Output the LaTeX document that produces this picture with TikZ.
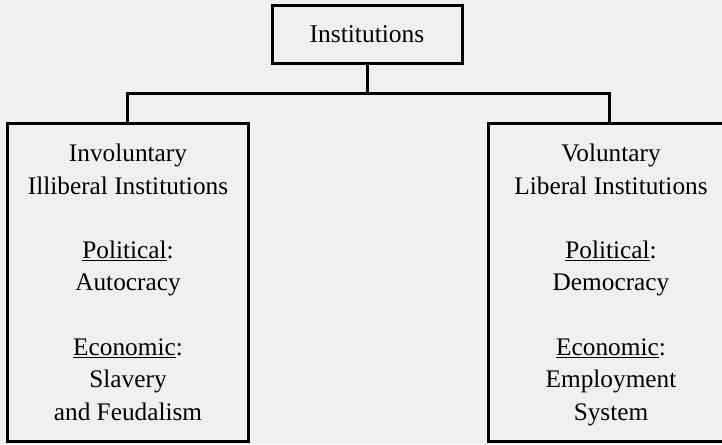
\documentclass[tikz,border=0pt]{standalone}
\usepackage{fontspec}
\setmainfont{Liberation Serif}
\definecolor{bgc}{HTML}{F0F0F0}
\tikzset{
  boxline/.style={draw=black, line width=3pt},
  topbox/.style={boxline, minimum width=190pt, minimum height=57pt, inner sep=0pt, font=\fontsize{25.5}{32}\selectfont},
  bigbox/.style={boxline, minimum width=241pt, minimum height=318pt, inner sep=0pt},
  boxtext/.style={align=center, inner sep=0pt, font=\fontsize{25.3}{32.3}\selectfont, anchor=north},
  conn/.style={draw=black, line width=3pt}
}
\begin{document}
\begin{tikzpicture}[x=1pt,y=-1pt]
\fill[bgc] (0,0) rectangle (722,444);
\useasboundingbox (0,0) rectangle (722,444);
\clip (0,0) rectangle (722,444);
\node[topbox] (top) at (367,34.5) {Institutions};
\node[bigbox] (L) at (127.5,282) {};
\node[bigbox] (R) at (609,282) {};
\node[boxtext] (Lt) at (128,144) {Involuntary\\Illiberal Institutions\\[32.3pt]\underline{Political}:\\Autocracy\\[32.3pt]\underline{Economic}:\\Slavery\\and Feudalism};
\node[boxtext] (Rt) at (611,144) {Voluntary\\Liberal Institutions\\[32.3pt]\underline{Political}:\\Democracy\\[32.3pt]\underline{Economic}:\\Employment\\System};
\coordinate (j) at (367,93);
\draw[conn, line join=miter] (top.south) -- (j);
\draw[conn, line join=miter] (L.north) -- (L.north |- j) -- (R.north |- j) -- (R.north);
\end{tikzpicture}
\end{document}
